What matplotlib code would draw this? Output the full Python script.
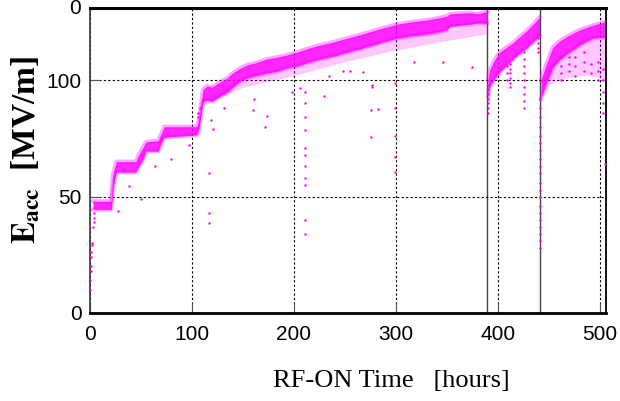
import matplotlib
matplotlib.use("Agg")
import matplotlib.pyplot as plt

plt.rcParams['mathtext.fontset'] = 'stix'

MAG = '#ff00ff'

# banda principal (envelope da nuvem de pontos)
band1_t = [3, 21, 22.5, 24, 26, 45, 48, 52, 55, 67, 70, 73, 105, 107, 109, 111, 115,
           120, 127, 135, 140, 147, 154, 163, 173, 185, 195, 203, 213, 225, 240, 252,
           265, 284, 301, 315, 333, 345, 350, 353, 373, 380, 390]
band1_lo = [44.5, 44.5, 53, 57, 60.5, 60.5, 63, 66, 69.5, 69.5, 73, 75.5, 76.5, 79, 85,
            91, 91.5, 91, 93, 95, 97, 99.5, 101, 102, 103, 104, 105.5, 106, 107.5, 109,
            110.5, 112, 113.5, 116, 118, 119, 120, 121, 121.5, 123, 124, 124.5, 124.5]
band1_hi = [48, 48, 59, 62, 65, 65, 68, 71, 73.5, 74, 77, 80, 80, 83, 90, 96, 97.5,
            97, 99, 101, 103, 105, 106.5, 107.5, 109, 110, 111, 112, 113.5, 115, 116.5,
            118, 119.5, 122, 124, 125, 126, 127, 127.5, 128.5, 129, 128.5, 129.5]

band2_t = [390.5, 392, 396, 402, 410, 415, 420, 428, 436, 441]
band2_lo = [93, 97, 100, 103.5, 107, 109, 111, 113.7, 117, 119]
band2_hi = [100, 104, 108, 112, 114.5, 116, 118, 121, 124.5, 127]

band3_t = [442.5, 447, 454, 460, 467, 480, 493, 505]
band3_lo = [92, 98, 105.5, 108.5, 111, 115, 118, 118.5]
band3_hi = [100, 106, 114, 116.5, 118.5, 121.5, 123.5, 125]

# franja de pontos esparsos abaixo da banda
fr1_t = [110, 150, 200, 250, 300, 350, 390]
fr1_lo = [89, 97, 102, 108, 113, 117, 120]
fr1_hi = [92, 101, 106, 112, 118, 121.5, 125]

fr3_t = [444, 450, 460, 470, 480, 490, 500, 505]
fr3_lo = [93, 98, 100, 101, 102, 102, 101, 100]
fr3_hi = [100, 106, 110, 112, 115.5, 117.5, 118.5, 119]

# pontos isolados (t [h], Eacc [MV/m])
pts_t = [0.5, 0.5, 0.8, 1.0, 1.2, 1.5, 1.8, 2.0, 3.0, 4.0, 4.0, 4.5,
         28, 38, 50, 64, 80, 97, 106, 106, 108, 117, 117, 117, 119, 121, 132,
         160, 161, 172, 174,
         211, 211, 211, 211, 211, 211, 211, 211, 211, 211, 211,
         198, 206, 230, 235, 248, 255, 268,
         276, 276, 277, 277, 283,
         299, 299, 299, 299, 299, 318, 346, 375,
         390.5, 390.5, 390.5, 390.5, 390.5, 390.5, 390.5,
         409, 409, 409, 412, 412, 412, 412, 412, 412,
         426, 426, 426, 426, 426, 426, 426, 426, 426,
         440, 440, 440, 440, 440,
         442, 442, 442, 442, 442, 442, 442, 442, 442, 442,
         442, 442, 442, 442, 442, 442, 442, 442, 442, 442,
         462, 462, 462, 470, 470, 470, 476, 476, 476, 485, 485, 485,
         492, 492, 498, 498, 498, 503, 503, 503, 503, 503, 505]
pts_e = [10, 14, 18, 20, 24, 26, 29, 30, 37, 39, 41, 43,
         44, 54.5, 49, 63, 66, 72, 84, 86, 88, 60, 43, 38.6, 83, 79, 88,
         87, 92, 80, 84.5,
         34, 40, 55, 58, 63, 68, 71, 78.5, 84, 90, 95,
         95, 96.5, 93, 101.7, 104, 104, 103.6,
         75.5, 87, 97, 98, 87.5,
         60.5, 67, 76, 88, 99, 107.7, 107.7, 105.6,
         86, 88, 90, 92, 94, 96, 98,
         100, 103, 106, 97, 99, 101, 103, 105, 107,
         88, 91, 94, 97, 100, 103, 106, 109, 112,
         112, 114, 116, 118, 120,
         28, 31, 34, 37, 40, 43, 46, 50, 53, 56,
         60, 63, 66, 70, 73, 76, 80, 84, 88, 92,
         100, 103, 106, 104, 107, 110, 102, 106, 110, 104, 108, 112,
         103, 107, 100, 104, 108, 86, 90, 95, 100, 105, 64]

# reinicios do teste (linhas verticais)
restarts = [390, 442]

fig = plt.figure(figsize=(6.2, 4.01), dpi=100)
ax = fig.add_axes([0.145, 0.2195, 0.832, 0.7605])

for t, lo, hi in [(fr1_t, fr1_lo, fr1_hi), (fr3_t, fr3_lo, fr3_hi)]:
    ax.fill_between(t, lo, hi, color=MAG, alpha=0.22, lw=0, zorder=2)
for t, lo, hi in [(band1_t, band1_lo, band1_hi), (band2_t, band2_lo, band2_hi),
                  (band3_t, band3_lo, band3_hi)]:
    ax.fill_between(t, lo, hi, color=MAG, alpha=0.85, lw=0, zorder=3)
    # bordas difusas da nuvem
    ax.plot(t, lo, color=MAG, lw=3, alpha=0.35, zorder=3)
    ax.plot(t, hi, color=MAG, lw=3, alpha=0.35, zorder=3)
ax.scatter(pts_t, pts_e, s=3, color=MAG, lw=0, zorder=4)

for r in restarts:
    ax.axvline(r, color='#444444', lw=1, zorder=1)

ax.set_xlim(0, 506)
ax.set_ylim(0, 131)
ax.set_xticks([0, 100, 200, 300, 400, 500])
ax.set_yticks([0, 50, 100])
ax.grid(True, color='black', ls=(0, (2, 2)), lw=0.8, zorder=0)
ax.tick_params(direction='in', length=7, color='#555555', labelsize=15)
ax.tick_params(axis='x', pad=9)
ax.tick_params(axis='y', pad=6)
for lab in ax.get_xticklabels() + ax.get_yticklabels():
    lab.set_family('Liberation Sans')

ax.spines['top'].set_linewidth(2.2)
ax.spines['bottom'].set_linewidth(2)
ax.spines['left'].set_linewidth(1.3)
ax.spines['right'].set_linewidth(1.3)
ax.spines['left'].set_color('#444444')

fig.text(510 / 620, 1 - 381 / 401, 'RF-ON Time   [hours]', ha='right', va='center',
         fontsize=19, family='Liberation Serif')
fig.text(26 / 620, 1 - 244 / 401, r'$\mathbf{E_{acc}}$  [MV/m]', rotation=90,
         ha='center', va='bottom', fontsize=24, family='Liberation Serif',
         fontweight='bold')
fig.text(75 / 620, 1 - 8 / 401, '0', ha='center', va='center', fontsize=15,
         family='Liberation Sans')

fig.savefig('out.png', dpi=100)
